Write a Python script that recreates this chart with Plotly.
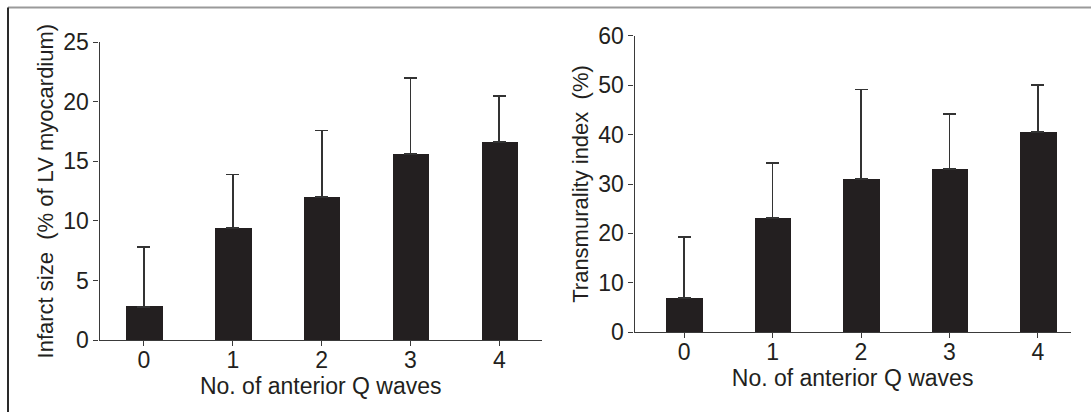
import plotly.graph_objects as go

# Number of anterior Q waves (x categories)
q_waves = ["0", "1", "2", "3", "4"]

# Left panel: infarct size (% of LV myocardium), mean and SD
infarct_mean = [2.8, 9.4, 12.0, 15.6, 16.6]
infarct_sd = [5.0, 4.5, 5.6, 6.4, 3.9]

# Right panel: transmurality index (%), mean and SD
transmural_mean = [6.9, 23.1, 31.0, 33.0, 40.5]
transmural_sd = [12.4, 11.1, 18.1, 11.2, 9.6]

infarct_ticks = [0, 5, 10, 15, 20, 25]
transmural_ticks = [0, 10, 20, 30, 40, 50, 60]

W, H = 1091, 412
INK = "#231f20"
FONT = "Liberation Sans"
TICK_SIZE = 23
XTITLE_SIZE = 23
YTITLE_SIZE = 22

fig = go.Figure()

fig.add_trace(go.Bar(
    x=q_waves, y=infarct_mean, xaxis="x", yaxis="y",
    width=0.41, marker=dict(color=INK, line=dict(width=0)),
    error_y=dict(type="data", symmetric=False, array=infarct_sd,
                 arrayminus=[0] * len(infarct_sd),
                 color="#333333", thickness=1.8, width=6.5),
    showlegend=False, hoverinfo="x+y",
))

fig.add_trace(go.Bar(
    x=q_waves, y=transmural_mean, xaxis="x2", yaxis="y2",
    width=0.415, marker=dict(color=INK, line=dict(width=0)),
    error_y=dict(type="data", symmetric=False, array=transmural_sd,
                 arrayminus=[0] * len(transmural_sd),
                 color="#333333", thickness=1.8, width=6.5),
    showlegend=False, hoverinfo="x+y",
))


def px_x(p):
    return p / W


def px_y(p):
    return 1 - p / H


def axis_style(title, standoff, title_size, **extra):
    style = dict(
        showline=True, linecolor="#3a3a3a", linewidth=1.3,
        ticks="outside", ticklen=5, tickwidth=1.2, tickcolor="#3a3a3a",
        showgrid=False, zeroline=False, mirror=False, automargin=False,
        tickfont=dict(family=FONT, size=TICK_SIZE, color=INK),
        title=dict(text=title, standoff=standoff,
                   font=dict(family=FONT, size=title_size, color=INK)),
    )
    style.update(extra)
    return style


fig.update_layout(
    width=W, height=H,
    margin=dict(l=0, r=0, t=0, b=0, autoexpand=False),
    paper_bgcolor="white", plot_bgcolor="white",
    font=dict(family=FONT, color=INK, size=TICK_SIZE),
    bargap=0,
    xaxis=axis_style(
        "No. of anterior Q waves", 1, XTITLE_SIZE,
        domain=[px_x(99.5), px_x(542)], anchor="y",
        type="category", range=[-0.5, 4.48], ticklabelstandoff=-6,
    ),
    yaxis=axis_style(
        "Infarct size  (% of LV myocardium)", 3, YTITLE_SIZE,
        domain=[px_y(340), px_y(42.3)], anchor="x",
        range=[0, 25], tickvals=infarct_ticks,
    ),
    xaxis2=axis_style(
        "No. of anterior Q waves", 1, XTITLE_SIZE,
        domain=[px_x(634.5), px_x(1070.7)], anchor="y2",
        type="category", range=[-0.56, 4.37], ticklabelstandoff=-6,
    ),
    yaxis2=axis_style(
        "Transmurality index  (%)", 3, YTITLE_SIZE,
        domain=[px_y(332.3), px_y(35.7)], anchor="x2",
        range=[0, 60], tickvals=transmural_ticks,
    ),
    shapes=[
        # figure frame: top and left edges
        dict(type="line", xref="paper", yref="paper",
             x0=px_x(8), x1=1, y0=px_y(7.5), y1=px_y(7.5),
             line=dict(color="#9a9a9a", width=2)),
        dict(type="line", xref="paper", yref="paper",
             x0=px_x(8), x1=px_x(8), y0=px_y(7.5), y1=0,
             line=dict(color="#2a2a2a", width=2)),
    ],
)

fig.write_html("out.html")
